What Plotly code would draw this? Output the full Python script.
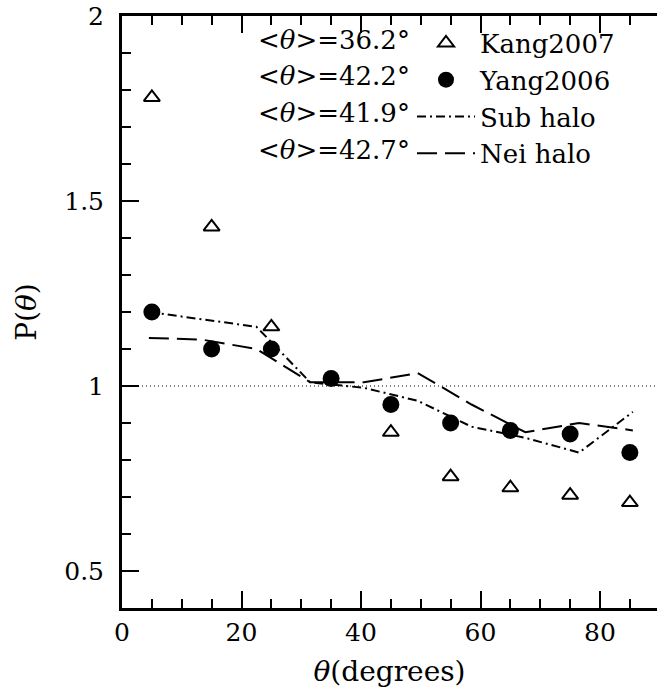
import plotly.graph_objects as go

# ---------------- data ----------------
theta_obs = [5, 15, 25, 35, 45, 55, 65, 75, 85]
kang2007 = [1.78, 1.43, 1.16, None, 0.875, 0.755, 0.725, 0.705, 0.685]
yang2006 = [1.20, 1.10, 1.10, 1.02, 0.95, 0.90, 0.88, 0.87, 0.82]

theta_model = [4.5, 13.5, 22.5, 31.5, 40.5, 49.5, 58.5, 67.5, 76.5, 85.5]
sub_halo = [1.20, 1.18, 1.16, 1.01, 0.995, 0.96, 0.89, 0.86, 0.82, 0.93]
nei_halo = [1.13, 1.125, 1.10, 1.01, 1.01, 1.035, 0.95, 0.875, 0.90, 0.88]

names = ["Kang2007", "Yang2006", "Sub halo", "Nei halo"]
mean_theta = ["36.2", "42.2", "41.9", "42.7"]

x_ticks = [0, 20, 40, 60, 80]
y_ticks = [0.5, 1, 1.5, 2]
y_ticktext = ["0.5", "1", "1.5", "2"]

FONT = "DejaVu Serif"

fig = go.Figure()

fig.add_trace(go.Scatter(
    x=theta_obs, y=kang2007, mode="markers", name=names[0],
    marker=dict(symbol="triangle-up-open", size=14, color="black",
                line=dict(width=2, color="black")),
))
fig.add_trace(go.Scatter(
    x=theta_obs, y=yang2006, mode="markers", name=names[1],
    marker=dict(symbol="circle", size=17, color="black"),
))
fig.add_trace(go.Scatter(
    x=theta_model, y=sub_halo, mode="lines", name=names[2],
    line=dict(color="black", width=2, dash="9px,4px,2px,4px"),
))
fig.add_trace(go.Scatter(
    x=theta_model, y=nei_halo, mode="lines", name=names[3],
    line=dict(color="black", width=2, dash="20px,8px"),
))

# reference line at P=1
fig.add_shape(type="line", xref="x domain", yref="y", x0=0, x1=1, y0=1, y1=1,
              line=dict(color="black", width=1, dash="1px,3px"), layer="below")

# mean-angle labels next to the legend rows
row_y = [39.5, 76, 113, 150]
for m, ry in zip(mean_theta, row_y):
    fig.add_annotation(
        text="&lt;<i>θ</i>&gt;=" + m + "°",
        xref="paper", yref="paper",
        x=(412 - 122) / 535, y=1 - (ry - 16) / 592,
        xanchor="right", yanchor="middle", showarrow=False,
        font=dict(family=FONT, size=26, color="black"),
    )

axis_common = dict(
    showgrid=False, zeroline=False, ticks="inside", tickcolor="black",
    tickwidth=1.5, linecolor="black", linewidth=3,
    tickfont=dict(family=FONT, size=25, color="black"),
)

fig.update_layout(
    width=657, height=694, autosize=False,
    margin=dict(l=122, r=0, t=16, b=86),
    paper_bgcolor="white", plot_bgcolor="white",
    showlegend=True,
    legend=dict(
        x=(412 - 122) / 535, y=1 - (19.5 - 16) / 592, xanchor="left", yanchor="top",
        bgcolor="rgba(0,0,0,0)", borderwidth=0,
        font=dict(family=FONT, size=26, color="black"),
        itemwidth=58, tracegroupgap=0,
    ),
    xaxis=dict(
        range=[0, 89.54], tickvals=x_ticks, ticklen=17, showline=True, mirror="ticks",
        minor=dict(dtick=5, ticks="inside", ticklen=9, tickcolor="black", tickwidth=1.5),
        title=dict(text="<i>θ</i>(degrees)", font=dict(family=FONT, size=28, color="black"),
                   standoff=16),
        **axis_common,
    ),
    yaxis=dict(
        range=[0.4, 2], tickvals=y_ticks, ticktext=y_ticktext, ticklen=17,
        showline=True, mirror=False, ticklabelstandoff=10,
        minor=dict(dtick=0.1, tick0=0, ticks="inside", ticklen=9, tickcolor="black", tickwidth=1.5),
        title=dict(text="P(<i>θ</i>)", font=dict(family=FONT, size=28, color="black"),
                   standoff=20),
        **axis_common,
    ),
    yaxis2=dict(
        range=[0.4, 2], overlaying="y", side="right", tickvals=y_ticks,
        showticklabels=False, showline=False, showgrid=False, zeroline=False,
        ticks="inside", ticklen=17, tickcolor="black", tickwidth=1.5,
        minor=dict(dtick=0.1, tick0=0, ticks="inside", ticklen=9, tickcolor="black", tickwidth=1.5),
    ),
)

fig.write_html("out.html")
